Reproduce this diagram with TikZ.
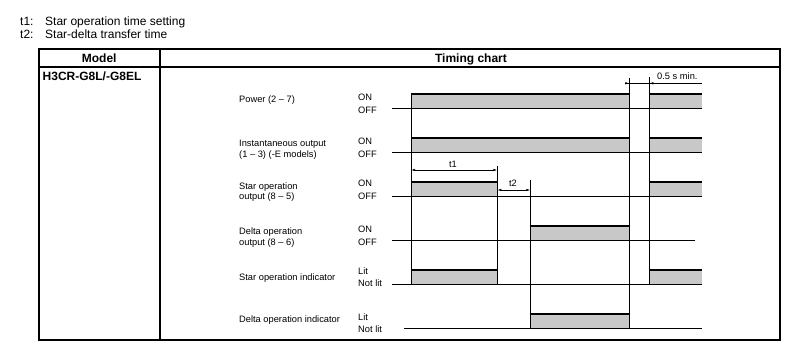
\documentclass[tikz,border=0pt]{standalone}
\usepackage{fontspec}
\setmainfont{Liberation Sans}
\usetikzlibrary{arrows.meta}
\definecolor{bargray}{RGB}{200,200,200}
\tikzset{
 lbl/.style={anchor=west, inner sep=0pt, font=\fontsize{9.3}{10}\selectfont, text height=6.7pt, text depth=0pt},
 hdr/.style={inner sep=0pt, font=\fontsize{12}{14}\selectfont, text height=8.6pt, text depth=0pt},
 hdrb/.style={hdr, font=\fontsize{12}{14}\selectfont\bfseries},
 frame/.style={line width=2pt},
 baseln/.style={line width=0.6pt},
 topln/.style={line width=1.6pt},
 vln/.style={line width=0.7pt},
 tip/.style={-{Latex[length=4pt,width=2.4pt]}, line width=0.6pt},
 dimln/.style={{Latex[length=4pt,width=2.4pt]}-{Latex[length=4pt,width=2.4pt]}, line width=0.6pt},
}
\newcommand\sigbar[4]{%
  \fill[bargray] (#1,#3) rectangle (#2,#4);
  \draw[vln] (#1,#4) -- (#1,#3);
  \draw[vln] (#2,#4) -- (#2,#3);
  \draw[topln] (#1,#3) -- (#2,#3);}
\newcommand\sigbaropen[4]{%
  \fill[bargray] (#1,#3) rectangle (#2,#4);
  \draw[vln] (#1,#4) -- (#1,#3);
  \draw[topln] (#1,#3) -- (#2,#3);}
\begin{document}
\begin{tikzpicture}[x=1pt,y=-1pt]
\useasboundingbox (0,0) rectangle (800,361);
% legend
\node[hdr,anchor=west] (l1a) at (20,21) {t1:};
\node[hdr,anchor=west] (l1b) at (45,21) {Star operation time setting};
\node[hdr,anchor=west] (l2a) at (20,34.5) {t2:};
\node[hdr,anchor=west] (l2b) at (45,34.5) {Star-delta transfer time};
% table frame
\coordinate (tl) at (38.7,49.5);
\coordinate (br) at (780.3,340);
\draw[frame] (tl) rectangle (br);
\draw[frame] (38.7,66.7) -- (780.3,66.7);
\draw[frame] (160,49.5) -- (160,340);
\node[hdrb] (model) at (99.2,58) {Model};
\node[hdrb] (tc) at (471,58) {Timing chart};
\node[hdrb,anchor=west] (h3) at (42.5,76) {H3CR-G8L/-G8EL};
% bars
\sigbar{411}{629.3}{93.7}{108.3}
\sigbaropen{649.3}{702}{93.7}{108.3}
\sigbar{411}{629.3}{137.7}{152.3}
\sigbaropen{649.3}{702}{137.7}{152.3}
\sigbar{411}{497.3}{181.7}{196.3}
\sigbaropen{649.3}{702}{181.7}{196.3}
\sigbar{530.3}{629.3}{225.7}{240.3}
\sigbar{411}{497.3}{270}{284.3}
\sigbaropen{649.3}{702}{270}{284.3}
\sigbar{530.3}{629.3}{314}{328.3}
% baselines
\draw[baseln] (392,108.3) -- (702,108.3);
\draw[baseln] (392,152.3) -- (702,152.3);
\draw[baseln] (392,196.3) -- (702,196.3);
\draw[baseln] (392,240.3) -- (694.7,240.3);
\draw[baseln] (392,284.3) -- (702,284.3);
\draw[baseln] (404,328.3) -- (702,328.3);
% vertical transition lines
\draw[vln] (411,108.3) -- (411,270);
\draw[vln] (497.3,166) -- (497.3,284.3);
\draw[vln] (530.3,180) -- (530.3,328.3);
\draw[vln] (629.3,78) -- (629.3,328.3);
\draw[vln] (649.3,77) -- (649.3,270);
% dimensions
\draw[dimln] (411,170) -- (497.3,170);
\node[lbl,anchor=center] (t1) at (453,164.5) {t1};
\draw[dimln] (497.3,190) -- (530.3,190);
\node[lbl,anchor=center] (t2) at (513,183.5) {t2};
\draw[baseln] (625,83.3) -- (702,83.3);
\draw[tip] (624.5,83.3) -- (629.3,83.3);
\draw[tip] (660,83.3) -- (649.3,83.3);
\node[lbl] (half) at (657,76.5) {0.5 s min.};
% signal names
\node[lbl] (n1) at (239,99.3) {Power (2 -- 7)};
\node[lbl] (n2a) at (239,143.3) {Instantaneous output};
\node[lbl] (n2b) at (239,154.3) {(1 -- 3) (-E models)};
\node[lbl] (n3a) at (239,185.7) {Star operation};
\node[lbl] (n3b) at (239,196.5) {output (8 -- 5)};
\node[lbl] (n4a) at (239,231.5) {Delta operation};
\node[lbl] (n4b) at (239,242.3) {output (8 -- 6)};
\node[lbl] (n5) at (239,276.7) {Star operation indicator};
\node[lbl] (n6) at (239,318.7) {Delta operation indicator};
% states
\node[lbl] (s1a) at (358,96.7) {ON};
\node[lbl] (s1b) at (358,110) {OFF};
\node[lbl] (s2a) at (358,140.7) {ON};
\node[lbl] (s2b) at (358,154) {OFF};
\node[lbl] (s3a) at (358,182.7) {ON};
\node[lbl] (s3b) at (358,196) {OFF};
\node[lbl] (s4a) at (358,229) {ON};
\node[lbl] (s4b) at (358,241.7) {OFF};
\node[lbl] (s5a) at (358,270.7) {Lit};
\node[lbl] (s5b) at (358,283.5) {Not lit};
\node[lbl] (s6a) at (358,316.7) {Lit};
\node[lbl] (s6b) at (358,329.3) {Not lit};
\end{tikzpicture}
\end{document}
